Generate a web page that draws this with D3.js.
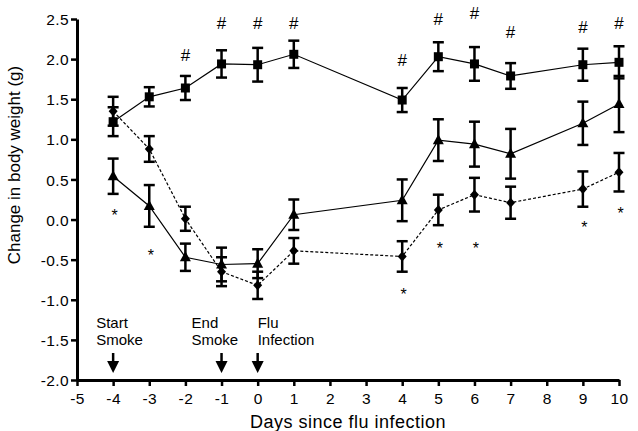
<!DOCTYPE html>
<html>
<head>
<meta charset="utf-8">
<script src="https://cdn.jsdelivr.net/npm/d3@7"></script>
<style>
  body { margin: 0; background: #fff; }
  svg text { font-family: "Liberation Sans", Arial, Helvetica, sans-serif; fill: #000; }
</style>
</head>
<body>
<div id="chart"></div>
<script>
// days since flu infection
var days = [-4, -3, -2, -1, 0, 1, 4, 5, 6, 7, 9, 10];

// squares, solid line
var squareMean = [1.22, 1.53, 1.64, 1.94, 1.93, 2.06, 1.49, 2.03, 1.94, 1.79, 1.93, 1.96];
var squareSem  = [0.18, 0.12, 0.15, 0.17, 0.21, 0.17, 0.15, 0.18, 0.21, 0.16, 0.20, 0.20];
// triangles, solid line
var triMean = [0.54, 0.17, -0.47, -0.56, -0.55, 0.06, 0.24, 0.99, 0.94, 0.82, 1.20, 1.44];
var triSem  = [0.22, 0.26, 0.17, 0.21, 0.18, 0.19, 0.26, 0.26, 0.28, 0.31, 0.27, 0.35];
// diamonds, dashed line
var diaMean = [1.35, 0.88, 0.01, -0.65, -0.82, -0.39, -0.46, 0.12, 0.31, 0.21, 0.38, 0.59];
var diaSem  = [0.18, 0.16, 0.15, 0.18, 0.17, 0.16, 0.19, 0.19, 0.21, 0.20, 0.22, 0.24];

// significance marks
var hashDays = [-2, -1, 0, 1, 4, 5, 6, 7, 9, 10];
var hashY    = [2.05, 2.45, 2.45, 2.45, 1.99, 2.50, 2.57, 2.34, 2.40, 2.45];
var starDays = [-4, -3, 4, 5, 6, 9, 10];
var starY    = [0.09, -0.40, -0.89, -0.32, -0.32, -0.06, 0.12];

// event arrows
var eventDays = [-4, -1, 0];
var eventLabels = [["Start", "Smoke"], ["End", "Smoke"], ["Flu", "Infection"]];

var xTicks = d3.range(-5, 11, 1);
var yTicks = [-2.0, -1.5, -1.0, -0.5, 0.0, 0.5, 1.0, 1.5, 2.0, 2.5];

var width = 638, height = 431;

var svg = d3.select("#chart").append("svg")
    .attr("width", width)
    .attr("height", height);

var x = d3.scaleLinear().domain([-5, 10]).range([77, 619]);
var y = d3.scaleLinear().domain([-2, 2.5]).range([380, 19]);

// plain hyphen for negatives, like the original
var fmtX = function(d) { return String(d); };
var fmtY = function(d) { return (d < 0 ? "-" : "") + Math.abs(d).toFixed(1); };

var xAxis = d3.axisBottom(x).tickValues(xTicks).tickSize(6).tickSizeOuter(0).tickFormat(fmtX);
var yAxis = d3.axisLeft(y).tickValues(yTicks).tickSize(6).tickSizeOuter(0).tickFormat(fmtY);

var gx = svg.append("g")
    .attr("transform", "translate(0,380)")
    .call(xAxis);
var gy = svg.append("g")
    .attr("transform", "translate(77,0)")
    .call(yAxis);

[gx, gy].forEach(function(g) {
  g.select(".domain").attr("stroke", "#000").attr("stroke-width", 3);
  g.selectAll(".tick line").attr("stroke", "#000").attr("stroke-width", 2.5);
  g.selectAll(".tick text")
    .style("font-size", "15.5px")
    .style("letter-spacing", "0.4px")
    .attr("fill", "#000");
});
gx.selectAll(".tick text").attr("y", 13).attr("dy", "0.71em");
gy.selectAll(".tick text").attr("x", -8).attr("dy", "0.36em");

// axis labels
svg.append("text")
    .attr("x", (77 + 619) / 2)
    .attr("y", 428)
    .attr("text-anchor", "middle")
    .style("font-size", "18px")
    .style("letter-spacing", "0.5px")
    .text("Days since flu infection");

svg.append("text")
    .attr("transform", "translate(19.5,165)rotate(-90)")
    .attr("text-anchor", "middle")
    .style("font-size", "17px")
    .text("Change in body weight (g)");

// build series
function series(mean, sem) {
  return days.map(function(d, i) { return {day: d, v: mean[i], e: sem[i]}; });
}
var squares = series(squareMean, squareSem);
var triangles = series(triMean, triSem);
var diamonds = series(diaMean, diaSem);

var line = d3.line()
    .x(function(d) { return x(d.day); })
    .y(function(d) { return y(d.v); });

svg.append("path").datum(squares)
    .attr("d", line).attr("fill", "none").attr("stroke", "#000").attr("stroke-width", 1.2);
svg.append("path").datum(triangles)
    .attr("d", line).attr("fill", "none").attr("stroke", "#000").attr("stroke-width", 1.2);
svg.append("path").datum(diamonds)
    .attr("d", line).attr("fill", "none").attr("stroke", "#000").attr("stroke-width", 1.2)
    .attr("stroke-dasharray", "3,2");

function errorBars(data) {
  var g = svg.append("g").attr("stroke", "#000").attr("stroke-width", 2.5);
  var eb = g.selectAll("g").data(data).enter().append("g");
  eb.append("line")
      .attr("x1", function(d) { return x(d.day); })
      .attr("x2", function(d) { return x(d.day); })
      .attr("y1", function(d) { return y(d.v + d.e); })
      .attr("y2", function(d) { return y(d.v - d.e); });
  eb.append("line")
      .attr("x1", function(d) { return x(d.day) - 5.5; })
      .attr("x2", function(d) { return x(d.day) + 5.5; })
      .attr("y1", function(d) { return y(d.v + d.e); })
      .attr("y2", function(d) { return y(d.v + d.e); });
  eb.append("line")
      .attr("x1", function(d) { return x(d.day) - 5.5; })
      .attr("x2", function(d) { return x(d.day) + 5.5; })
      .attr("y1", function(d) { return y(d.v - d.e); })
      .attr("y2", function(d) { return y(d.v - d.e); });
}
errorBars(diamonds);
errorBars(triangles);
errorBars(squares);

// markers
svg.append("g").selectAll("path").data(diamonds).enter().append("path")
    .attr("d", "M0,-5L4.5,0L0,5L-4.5,0Z")
    .attr("transform", function(d) { return "translate(" + x(d.day) + "," + y(d.v) + ")"; });
svg.append("g").selectAll("path").data(triangles).enter().append("path")
    .attr("d", "M0,-6L5.5,4L-5.5,4Z")
    .attr("transform", function(d) { return "translate(" + x(d.day) + "," + y(d.v) + ")"; });
svg.append("g").selectAll("rect").data(squares).enter().append("rect")
    .attr("x", function(d) { return x(d.day) - 4.5; })
    .attr("y", function(d) { return y(d.v) - 4.5; })
    .attr("width", 9)
    .attr("height", 9);

// significance marks
svg.append("g").selectAll("text").data(hashDays).enter().append("text")
    .attr("x", function(d) { return x(d); })
    .attr("y", function(d, i) { return y(hashY[i]) + 6; })
    .attr("text-anchor", "middle")
    .style("font-size", "17px")
    .text("#");
svg.append("g").selectAll("text").data(starDays).enter().append("text")
    .attr("x", function(d) { return x(d) + 1.5; })
    .attr("y", function(d, i) { return y(starY[i]) + 9; })
    .attr("text-anchor", "middle")
    .style("font-size", "16px")
    .text("*");

// event labels and arrows
var labelDx = [-17, -30, 0];
var ev = svg.append("g").selectAll("g").data(eventDays).enter().append("g");
ev.append("text")
    .attr("x", function(d, i) { return x(d) + labelDx[i]; })
    .attr("y", 328)
    .style("font-size", "15px")
    .text(function(d, i) { return eventLabels[i][0]; });
ev.append("text")
    .attr("x", function(d, i) { return x(d) + labelDx[i]; })
    .attr("y", 345)
    .style("font-size", "15px")
    .text(function(d, i) { return eventLabels[i][1]; });
ev.append("line")
    .attr("x1", function(d) { return x(d); })
    .attr("x2", function(d) { return x(d); })
    .attr("y1", 353)
    .attr("y2", 363)
    .attr("stroke", "#000")
    .attr("stroke-width", 2.5);
ev.append("path")
    .attr("d", function(d) {
      var cx = x(d);
      return "M" + (cx - 6) + ",361L" + (cx + 6) + ",361L" + cx + ",373Z";
    });
</script>
</body>
</html>
